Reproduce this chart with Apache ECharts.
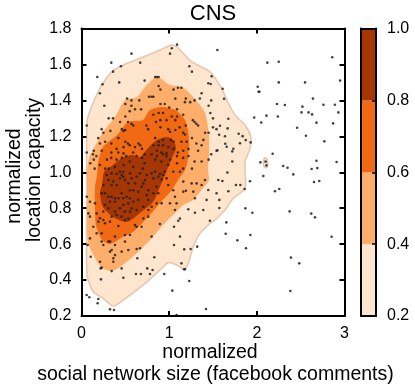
<!DOCTYPE html>
<html>
<head>
<meta charset="utf-8">
<title>CNS</title>
<style>
html, body { margin: 0; padding: 0; background: #fff; }
#chart { width: 415px; height: 391px; }
</style>
<script src="https://cdn.jsdelivr.net/npm/echarts@6/dist/echarts.min.js"></script>
</head>
<body>
<div id="chart"></div>
<script>
// contour outlines, [social network size, location capacity]
var contour02 = [[.063,1.281],[.116,1.365],[.230,1.485],[.355,1.563],[.477,1.597],[.667,1.634],[.895,1.680],[1.028,1.708],[1.104,1.689],[1.256,1.615],[1.465,1.559],[1.599,1.467],[1.656,1.402],[1.751,1.318],[1.865,1.263],[1.930,1.198],[1.922,1.133],[1.865,1.059],[1.865,1.0125],[1.865,.910],[1.732,.855],[1.637,.790],[1.523,.734],[1.466,.716],[1.352,.660],[1.275,.586],[1.218,.493],[1.169,.460],[1.085,.484],[.990,.497],[.895,.456],[.705,.373],[.477,.289],[.363,.256],[.249,.298],[.135,.335],[.063,.432],[.063,.85]];
var contour02Island = [[2.08,1.035],[2.075,1.06],[2.09,1.08],[2.115,1.075],[2.125,1.05],[2.115,1.03],[2.10,1.025]];
var contour04 = [[.086,1.079],[.131,1.124],[.245,1.224],[.382,1.307],[.496,1.402],[.633,1.419],[.724,1.474],[.861,1.530],[1.010,1.485],[1.146,1.474],[1.295,1.408],[1.409,1.330],[1.454,1.207],[1.454,1.085],[1.443,1.012],[1.454,.957],[1.386,.912],[1.272,.846],[1.158,.818],[1.067,.773],[.930,.706],[.804,.634],[.633,.551],[.439,.473],[.348,.450],[.234,.467],[.154,.523],[.074,.612],[.063,.773],[.063,.901],[.063,1.012]];
var contour06 = [[.177,.985],[.188,1.051],[.245,1.140],[.405,1.207],[.530,1.280],[.701,1.291],[.781,1.346],[.918,1.363],[1.067,1.346],[1.181,1.291],[1.226,1.191],[1.215,1.079],[1.181,1.012],[1.101,.957],[1.032,.901],[.918,.840],[.747,.745],[.587,.667],[.473,.640],[.325,.601],[.234,.623],[.165,.706],[.154,.818],[.154,.918]];
var contour08 = [[.234,.929],[.257,1.001],[.359,1.040],[.462,1.079],[.576,1.096],[.667,1.085],[.759,1.135],[.861,1.179],[.975,1.196],[1.044,1.179],[1.078,1.135],[1.032,1.079],[.975,1.012],[.895,.918],[.815,.834],[.667,.773],[.519,.723],[.359,.751],[.245,.807],[.211,.885]];

var dots = [
  [1.09,1.71],[1.03,1.69],[1.01,1.66],[.57,1.66],[.34,1.61],[.67,1.61],[.45,1.59],[1.23,1.59],[1.26,1.56],[.36,1.56],[.18,1.53],[.43,1.50],[.24,1.49],[.21,1.44],[.72,1.51],[.84,1.53],[.86,1.53],[.88,1.53],[1.05,1.46],[1.10,1.47],[1.14,1.47],[.88,1.48],[.90,1.46],[.77,1.42],[.80,1.42],[.82,1.42],[.52,1.41],[.57,1.40],[.66,1.40],[1.07,1.41],[1.19,1.41],[1.37,1.44],[1.35,1.41],
  [.50,1.38],[.57,1.37],[.61,1.35],[.68,1.35],[.55,1.34],[.50,1.31],[.53,1.28],[.57,1.27],[.59,1.26],[.74,1.26],[.76,1.24],[.44,1.28],[.36,1.30],[.31,1.30],[.26,1.37],[.06,1.26],[.23,1.24],[.25,1.22],[.19,1.19],[.33,1.23],[.48,1.23],[.46,1.24],[.50,1.235],[.42,1.19],[.50,1.17],[.53,1.16],[.55,1.15],[.61,1.14],[.48,1.14],[.40,1.13],[.34,1.16],[.27,1.17],[.21,1.16],[.14,1.12],[.06,1.11],[.13,1.10],[.23,1.12],[.17,1.09],[.34,1.11],[.42,1.11],[.48,1.105],[.59,1.11],[.65,1.16],[.67,1.15],[.69,1.13],[.63,1.09],[.69,1.08],[.72,1.10],[.14,1.07],[.10,1.05],[.29,1.07],[.21,1.04],[.34,1.08],[.40,1.07],[.46,1.08],[.51,1.09],[.55,1.06],[.48,1.04],[.38,1.03],[.31,1.02],[.27,1.02],[.15,1.02],[.72,1.05],[.59,1.03],[.70,1.02],
  [.95,1.38],[.90,1.38],[1.00,1.36],[1.09,1.35],[1.18,1.39],[1.24,1.39],[1.29,1.40],[.88,1.33],[.93,1.33],[.82,1.32],[1.03,1.31],[1.09,1.31],[1.16,1.32],[.90,1.29],[.97,1.29],[1.07,1.29],[.85,1.28],[1.19,1.26],[1.27,1.29],[1.29,1.28],[1.31,1.27],[1.33,1.26],[1.47,1.33],[1.50,1.30],[1.45,1.37],[1.48,1.40],[1.50,1.25],[1.54,1.24],[1.41,1.22],[1.45,1.22],[.90,1.25],[.99,1.24],[1.12,1.25],[1.07,1.235],[1.01,1.225],[1.16,1.22],[1.18,1.21],[.84,1.19],[.88,1.17],[.93,1.18],[1.02,1.18],[1.05,1.17],[.82,1.15],[.88,1.15],[.93,1.15],[.99,1.14],[1.14,1.17],[1.20,1.17],[1.26,1.19],[1.31,1.16],[1.37,1.15],[1.39,1.18],[.86,1.12],[.91,1.11],[.97,1.105],[1.05,1.13],[1.10,1.11],[1.16,1.12],[1.22,1.13],[1.33,1.12],[1.54,1.12],[1.48,1.10],[.80,1.10],[.86,1.09],[.93,1.10],[.97,1.09],[.84,1.07],[.91,1.06],[1.01,1.07],[1.09,1.09],[1.09,1.05],[1.16,1.08],[1.22,1.09],[1.29,1.06],[1.37,1.06],[1.45,1.07],[1.16,1.02],[1.26,1.02],[.99,1.04],
  [1.55,1.68],[2.12,1.61],[2.25,1.615],[2.86,1.64],[2.95,1.51],[2.55,1.50],[2.25,1.50],[2.01,1.476],[2.02,1.448],[2.03,1.448],[2.64,1.41],[2.23,1.38],[2.32,1.374],[2.52,1.365],[2.76,1.376],[2.89,1.376],[2.93,1.333],[2.51,1.333],[2.59,1.333],[2.63,1.322],[1.97,1.305],[2.11,1.315],[2.24,1.31],[2.05,1.277],[2.68,1.276],[2.87,1.272],[2.46,1.248],[2.56,1.203],[2.77,1.172],[2.18,1.103],[2.04,1.055],[2.10,1.059],[2.11,1.038],[2.68,1.064],[2.91,1.057],[2.30,1.035],[2.35,1.025],[2.69,1.023],[2.625,1.018],
  [1.485,1.534],[1.447,1.495],[1.474,1.491],[1.61,1.465],[1.626,1.409],[1.675,1.298],[1.667,1.244],[1.793,1.214],[1.838,1.201],[1.873,1.179],[1.93,1.166],[1.808,1.161],[1.64,1.159],[1.656,1.142],[1.732,1.131],[1.72,1.116],[1.72,1.06],[1.58,1.259],[1.57,1.209],[1.637,1.2],[1.55,1.122],
  [.06,.864],[.097,.836],[.154,.827],[.078,.771],[.097,.753],[.173,.771],[.211,.744],[.192,.725],[.249,.734],[.135,.697],[.173,.66],[.23,.66],[.097,.632],[.42,.701],[.382,.642],[.496,.651],[.629,.697],[.686,.697],[.705,.743],[.61,.706],[.553,.651],[.439,1.003],[.477,1.003],[.401,.99],[.458,.985],[.477,.975],[.439,.966],[.496,.957],[.344,.994],[.287,.985],[.306,.957],[.363,.948],[.401,.929],[.344,.929],[.249,.929],[.23,.883],[.268,.883],[.306,.864],[.344,.864],[.382,.855],[.42,.855],[.325,.836],[.382,.836],[.458,.883],[.477,.855],[.515,.864],[.553,.9],[.591,.9],[.648,.892],[.686,.92],[.705,.938],[.572,.966],[.629,.975],[.667,.994],[.553,.994],[.743,.985],[.724,.957],[.61,.938],[.534,.938],[.762,.9],[.743,.873],[.762,.846],[.648,.846],[.591,.836],[.534,.827],[.477,.818],[.439,.799],[.382,.781],[.496,.781],[.553,.781],[.572,.799],[.629,.79],[.705,.808],[.401,.762],[.268,.818],[.306,.799],[.249,.781],[.458,.753],[.534,.743],[.496,.734],[.344,.753],[.325,.725],[.268,.716],[.762,.79],[.762,.753],[.553,.855],
  [.80,.994],[.838,1.003],[.895,.99],[.952,1.003],[.933,.985],[.876,.975],[.819,.966],[.914,.96],[.971,.966],[1.047,1.003],[1.123,1.003],[.99,.929],[.857,.92],[.876,.883],[.819,.883],[.80,.808],[.857,.827],[.914,.827],[1.047,.9],[1.066,.864],[1.009,.827],[1.085,.827],[1.066,.79],[1.161,.948],[1.256,.938],[1.313,.938],[1.37,.929],[1.408,.957],[1.161,.892],[1.191,.897],[1.275,.892],[1.446,.901],[1.294,.855],[1.427,.846],[1.541,.883],[1.218,.794],[1.294,.775],[1.389,.79],[1.123,.743],[1.104,.73],[1.055,.697],[.895,.712],[1.465,.73],[1.123,.642],[1.56,.957],[.80,.642],
  [1.664,.999],[2.074,.979],[2.416,.988],[1.922,.95],[2.652,.946],[2.712,.951],[1.607,.951],[1.762,.929],[1.812,.929],[1.861,.907],[1.675,.894],[2.207,.894],[2.256,.907],[1.869,.799],[1.949,.775],[2.374,.782],[2.621,.77],[2.663,.749],[1.652,.721],[1.645,.658],[1.926,.651],[2.853,.641],[1.778,.621],[1.876,.577],[2.389,.525],[2.484,.493],[2.382,.339],[1.42,.239],[1.572,.846],[1.572,.801],
  [.07,.595],[.23,.614],[.249,.595],[.306,.614],[.325,.614],[.344,.567],[.382,.595],[.325,.558],[.363,.521],[.382,.539],[.363,.502],[.105,.53],[.211,.502],[.219,.465],[.23,.469],[.344,.45],[.458,.465],[.496,.614],[.458,.558],[.534,.567],[.667,.577],[.629,.573],[.637,.521],[.83,.527],[.222,.404],[.477,.413],[.621,.434],[.678,.434],[.75,.465],[.781,.434],[.811,.456],[.944,.434],[1.036,.341],[1.229,.395],[.059,.317],[.089,.304],[.192,.295],[.184,.271],[.325,.237],[.371,.233],[1.18,.46],[1.17,.46],[1.14,.493],[1.245,.573],[1.172,.571],[1.055,.595],[1.32,.586],[1.085,.205]
];

var xTickMax = 3;
var yTickMin = 0.2, yTickMax = 1.8;
var colorbarBands = [[0.2, 0.4], [0.4, 0.6], [0.6, 0.8], [0.8, 1.0]];
var bandColors = ['#fee6ce', '#fdae6b', '#f16913', '#a63603'];
var edgeColor = '#e8c6b0';
var font = '"Liberation Sans", Arial, sans-serif';

function contourSeries(points, fill, stroke) {
    return {
        type: 'custom',
        xAxisIndex: 0,
        yAxisIndex: 0,
        coordinateSystem: 'cartesian2d',
        silent: true,
        z: 2,
        data: points,
        renderItem: function (params, api) {
            if (params.dataIndex !== 0) {
                return;
            }
            var pts = [];
            for (var i = 0; i < points.length; i++) {
                pts.push(api.coord(points[i]));
            }
            return {
                type: 'polygon',
                shape: { points: pts, smooth: 0.25 },
                style: { fill: fill, stroke: stroke, lineWidth: stroke ? 1.6 : 0 }
            };
        }
    };
}

var line = { show: true, onZero: false, lineStyle: { color: '#000', width: 2 } };
var tick = { show: true, inside: true, length: 5, lineStyle: { color: '#000', width: 2 } };
var label = { color: '#000', fontSize: 16, fontFamily: font };

function bareAxis(extra) {
    var axis = {
        type: 'value', z: 5, axisLine: line, axisTick: { show: false },
        axisLabel: { show: false }, splitLine: { show: false }
    };
    for (var k in extra) {
        axis[k] = extra[k];
    }
    return axis;
}

function sideText(text, x, y) {
    return {
        type: 'text', x: x, y: y, rotation: Math.PI / 2, silent: true,
        style: { text: text, fill: '#000', font: '19.5px ' + font, textAlign: 'center', textVerticalAlign: 'middle' }
    };
}

var titleText = [
    { text: 'CNS', left: 213, top: 3, padding: 0, textAlign: 'center', textStyle: { color: '#000', fontSize: 22, fontWeight: 'normal', fontFamily: font } },
    { text: 'normalized', left: 210, top: 343, padding: 0, textAlign: 'center', textStyle: { color: '#000', fontSize: 19.5, fontWeight: 'normal', fontFamily: font } },
    { text: 'social network size (facebook comments)', left: 215.5, top: 365, padding: 0, textAlign: 'center', textStyle: { color: '#000', fontSize: 19.5, fontWeight: 'normal', fontFamily: font } }
];

var chart = echarts.init(document.getElementById('chart'), null, { renderer: 'canvas' });
chart.setOption({
    animation: false,
    backgroundColor: '#fff',
    title: titleText,
    graphic: [sideText('normalized', 15, 176), sideText('location capacity', 35, 170)],
    grid: [
        { left: 81.5, top: 28.5, width: 263, height: 287.5, outerBoundsMode: 'none' },
        { left: 361, top: 28.5, width: 15, height: 287.5, outerBoundsMode: 'none' }
    ],
    xAxis: [
        bareAxis({ gridIndex: 0, position: 'bottom', min: 0, max: xTickMax, interval: 1, axisTick: tick, axisLabel: { show: true, margin: 10, color: label.color, fontSize: label.fontSize, fontFamily: label.fontFamily } }),
        bareAxis({ gridIndex: 0, position: 'top', min: 0, max: xTickMax, interval: 1, axisTick: tick }),
        bareAxis({ gridIndex: 1, position: 'bottom', min: 0, max: 1 }),
        bareAxis({ gridIndex: 1, position: 'top', min: 0, max: 1 })
    ],
    yAxis: [
        bareAxis({
            gridIndex: 0, position: 'left', min: yTickMin, max: yTickMax, interval: 0.2, axisTick: tick,
            axisLabel: { show: true, margin: 10, color: label.color, fontSize: label.fontSize, fontFamily: label.fontFamily, formatter: function (v) { return v.toFixed(1); } }
        }),
        bareAxis({ gridIndex: 0, position: 'right', min: yTickMin, max: yTickMax, interval: 0.2, axisTick: tick }),
        bareAxis({
            gridIndex: 1, position: 'right', min: 0.2, max: 1, interval: 0.2,
            axisTick: { show: true, inside: true, length: 4, lineStyle: { color: '#000', width: 1.5 } },
            axisLabel: { show: true, margin: 11, color: label.color, fontSize: label.fontSize, fontFamily: label.fontFamily, formatter: function (v) { return v.toFixed(1); } }
        }),
        bareAxis({ gridIndex: 1, position: 'left', min: 0.2, max: 1 })
    ],
    series: [
        contourSeries(contour02, bandColors[0], edgeColor),
        contourSeries(contour02Island, bandColors[0], edgeColor),
        contourSeries(contour04, bandColors[1]),
        contourSeries(contour06, bandColors[2]),
        contourSeries(contour08, bandColors[3]),
        {
            type: 'scatter',
            xAxisIndex: 0,
            yAxisIndex: 0,
            z: 3,
            silent: true,
            symbolSize: 2.6,
            itemStyle: { color: '#222', opacity: 0.85 },
            data: dots
        },
        {
            type: 'custom',
            xAxisIndex: 2,
            yAxisIndex: 2,
            silent: true,
            z: 2,
            data: colorbarBands,
            renderItem: function (params, api) {
                var band = colorbarBands[params.dataIndex];
                var from = api.coord([0, band[0]]);
                var to = api.coord([1, band[1]]);
                return {
                    type: 'rect',
                    shape: { x: from[0], y: to[1], width: to[0] - from[0], height: from[1] - to[1] },
                    style: { fill: bandColors[params.dataIndex] }
                };
            }
        }
    ]
});
</script>
</body>
</html>
